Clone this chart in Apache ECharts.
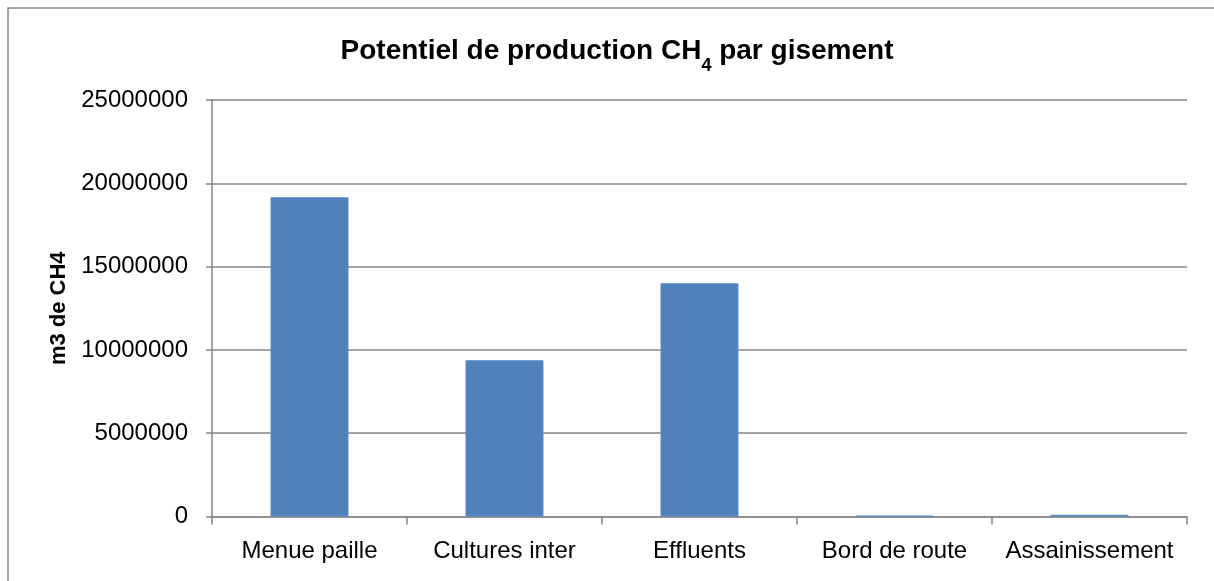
<!DOCTYPE html>
<html>
<head>
<meta charset="utf-8">
<script src="https://cdn.jsdelivr.net/npm/echarts@6/dist/echarts.min.js"></script>
<style>
html,body{margin:0;padding:0;background:#fff;}
#chart{width:1214px;height:581px;}
</style>
</head>
<body>
<div id="chart"></div>
<script>
const categories = ['Menue paille', 'Cultures inter', 'Effluents', 'Bord de route', 'Assainissement'];
const values = [19160000, 9380000, 14000000, 40000, 110000];
const yTicks = { min: 0, max: 25000000, interval: 5000000 };
const titleMain = 'Potentiel de production CH';
const titleSub = '4';
const titleEnd = ' par gisement';
const yName = 'm3 de CH4';

const font = 'Liberation Sans, Arial, sans-serif';
const gray = '#868686';
const chart = echarts.init(document.getElementById('chart'), null, {renderer: 'canvas'});
chart.setOption({
  animation: false,
  backgroundColor: '#fff',
  title: {
    text: '{m|' + titleMain + '}{s|' + titleSub + '}{m|' + titleEnd + '}',
    left: 612, top: 32, textAlign: 'center',
    textStyle: {
      rich: {
        m: {fontFamily: font, fontWeight: 'bold', fontSize: 28, color: '#000'},
        s: {fontFamily: font, fontWeight: 'bold', fontSize: 18, color: '#000', verticalAlign: 'bottom', padding: [0,0,-10,0]}
      }
    }
  },
  graphic: [{
    type: 'rect', shape: {x: 8, y: 8, width: 1300, height: 700},
    style: {fill: 'none', stroke: gray, lineWidth: 1.5}, silent: true
  }],
  grid: {left: 212, right: 27, top: 100, bottom: 64.5},
  xAxis: {
    type: 'category', data: categories,
    axisLine: {show: true, lineStyle: {color: gray, width: 1.5}},
    axisTick: {show: true, length: 8, lineStyle: {color: gray, width: 1.5}},
    axisLabel: {fontFamily: font, fontSize: 24, color: '#000', margin: 23, interval: 0}
  },
  yAxis: {
    type: 'value', min: yTicks.min, max: yTicks.max, interval: yTicks.interval,
    name: yName, nameLocation: 'middle', nameGap: 133, nameRotate: 90,
    nameTextStyle: {fontFamily: font, fontWeight: 'bold', fontSize: 22, color: '#000'},
    axisLine: {show: true, lineStyle: {color: gray, width: 1.5}},
    axisTick: {show: true, length: 6, lineStyle: {color: gray, width: 1.5}},
    axisLabel: {fontFamily: font, fontSize: 24, color: '#000', margin: 24,
      formatter: function (v) { return String(v); }},
    splitLine: {show: true, lineStyle: {color: gray, width: 1.5}}
  },
  series: [{
    type: 'bar', data: values, barCategoryGap: '60%',
    itemStyle: {color: '#4F81BD', borderColor: '#5B8DC8', borderWidth: 1}
  }]
});
</script>
</body>
</html>
